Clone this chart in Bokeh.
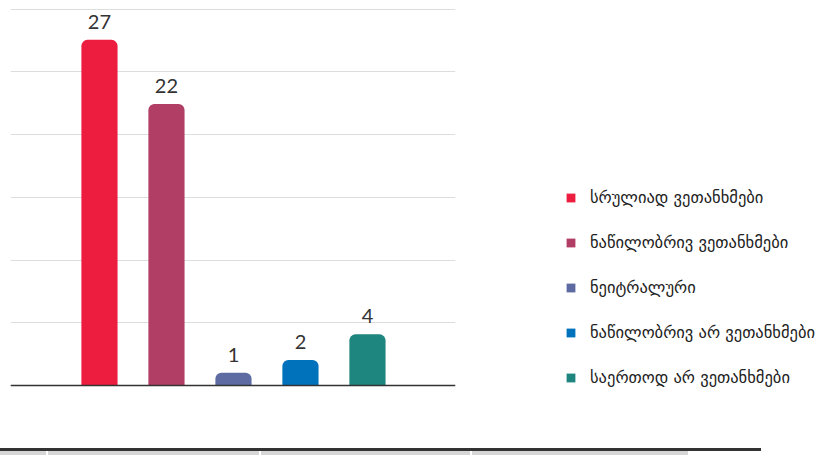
from bokeh.plotting import figure
from bokeh.models import (ColumnDataSource, Range1d, FixedTicker, Span, LabelSet,
                          Legend, LegendItem, Div)
from bokeh.core.properties import value
from bokeh.layouts import column
from bokeh.embed import file_html
from bokeh.resources import INLINE

categories = ["სრულიად ვეთანხმები", "ნაწილობრივ ვეთანხმები", "ნეიტრალური",
              "ნაწილობრივ არ ვეთანხმები", "საერთოდ არ ვეთანხმები"]
values = [27, 22, 1, 2, 4]
colors = ["#EC1D3F", "#B03E65", "#5D6BA2", "#0072BB", "#1F857F"]
grid_values = [0, 4.9, 9.8, 14.7, 19.6, 24.5, 29.4]

src = ColumnDataSource(dict(x=list(range(len(categories))), value=values,
                            label=[str(v) for v in values], color=colors, cat=categories))

p = figure(frame_width=445, frame_height=431, output_backend="svg", toolbar_location=None,
           x_range=Range1d(-1.328, 5.314), y_range=Range1d(-4.21, 29.45),
           min_border_left=10, min_border_top=8, min_border_bottom=0, min_border_right=0)
p.outline_line_color = None
p.xaxis.visible = False
p.yaxis.visible = False
p.xgrid.grid_line_color = None
p.ygrid.ticker = FixedTicker(ticks=grid_values)
p.ygrid.grid_line_color = "#dddddd"
p.ygrid.grid_line_width = 1

r = p.vbar(x="x", top="value", bottom=0, width=0.54, source=src, fill_color="color",
           line_color=None, border_radius=(6, 6, 0, 0))

p.add_layout(Span(location=0, dimension="width", line_color="#333333", line_width=1.5))

labels = LabelSet(x="x", y="value", text="label", source=src, text_align="center",
                  text_baseline="bottom", y_offset=11, text_font=value("Lato"),
                  text_font_size="20px", text_color="#333333")
p.add_layout(labels)

items = [LegendItem(label=c, renderers=[r], index=i) for i, c in enumerate(categories)]
legend = Legend(items=items, location=(110, 52), orientation="vertical",
                glyph_width=11, glyph_height=11, label_standoff=14,
                label_height=20, spacing=25, padding=0, margin=0,
                border_line_color=None, background_fill_alpha=0,
                label_text_font="DejaVu Sans", label_text_font_size="16.5px",
                label_text_color="#222222")
p.add_layout(legend, "right")

cell = "flex:none;background:#d6d6d6;height:5px;"
bar_html = (
    '<div style="width:764px;height:8px;border-top:3px solid #333;box-sizing:border-box;'
    'display:flex;">'
    f'<div style="{cell}width:49px;margin-right:2px"></div>'
    f'<div style="{cell}width:211px;margin-right:2px"></div>'
    f'<div style="{cell}width:209px;margin-right:2px"></div>'
    f'<div style="{cell}width:216px"></div>'
    '</div>'
)
div = Div(text=bar_html, width=764, height=8, styles={"margin-left": "-3px"})

layout = column(p, div, spacing=0)
open("out.html", "w").write(file_html(layout, INLINE))
